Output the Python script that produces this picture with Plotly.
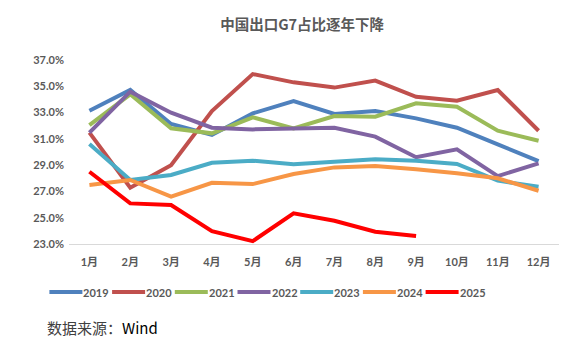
import plotly.graph_objects as go

months = ["1月", "2月", "3月", "4月", "5月", "6月", "7月", "8月", "9月", "10月", "11月", "12月"]
y2019 = [33.14, 34.72, 32.13, 31.3, 32.94, 33.88, 32.89, 33.12, 32.56, 31.85, 30.58, 29.31]
y2020 = [31.47, 27.28, 29.0, 33.12, 35.93, 35.3, 34.9, 35.43, 34.2, 33.9, 34.72, 31.62]
y2021 = [32.05, 34.39, 31.8, 31.42, 32.64, 31.8, 32.74, 32.69, 33.7, 33.45, 31.62, 30.86]
y2022 = [31.47, 34.59, 32.99, 31.85, 31.72, 31.77, 31.85, 31.17, 29.6, 30.2, 28.17, 29.14]
y2023 = [30.6, 27.87, 28.25, 29.18, 29.34, 29.06, 29.26, 29.44, 29.34, 29.09, 27.82, 27.36]
y2024 = [27.49, 27.87, 26.6, 27.66, 27.56, 28.32, 28.83, 28.93, 28.68, 28.38, 28.0, 27.05]
y2025 = [28.5, 26.09, 25.96, 23.98, 23.22, 25.33, 24.77, 23.93, 23.6]

series = [
    ("2019", y2019, "#4F81BD"),
    ("2020", y2020, "#C0504D"),
    ("2021", y2021, "#9BBB59"),
    ("2022", y2022, "#8064A2"),
    ("2023", y2023, "#4BACC6"),
    ("2024", y2024, "#F79646"),
    ("2025", y2025, "#FF0000"),
]
yticks = [23, 25, 27, 29, 31, 33, 35, 37]

fig = go.Figure()
for name, vals, color in series:
    fig.add_trace(go.Scatter(
        x=months[:len(vals)], y=vals, name=name, mode="lines",
        line=dict(color=color, width=4), showlegend=False,
    ))

tickfont = dict(family="Lato, 'Noto Sans CJK SC', sans-serif", size=11, color="#595959")
plot_l, plot_w, plot_b, plot_h = 68.6, 490.0, 244.0, 184.0
fig.update_layout(
    width=581, height=351,
    margin=dict(l=68.6, r=22.4, t=60, b=107),
    paper_bgcolor="white", plot_bgcolor="white",
    title=dict(text="<b>中国出口G7占比逐年下降</b>", x=0.52, xanchor="center", y=0.93, yanchor="middle",
               font=dict(family="'Noto Sans CJK SC', sans-serif", size=14.5, color="#595959")),
    xaxis=dict(type="category", categoryorder="array", categoryarray=months,
               range=[-0.5, 11.5], showgrid=False, showline=True, linecolor="#D9D9D9", linewidth=1,
               ticks="", tickfont=tickfont, ticklabelstandoff=8,
               tickvals=months, ticktext=[f"<b>{m}</b>" for m in months]),
    yaxis=dict(range=[23, 37], tickvals=yticks,
               ticktext=[f"<b>{v:.1f}%</b>" for v in yticks],
               showgrid=False, zeroline=False, showline=False, ticks="",
               tickfont=tickfont, ticklabelstandoff=4),
    showlegend=False,
)

# manual legend (layout positions in pixels converted to paper coords)
def px_x(px):
    return (px - plot_l) / plot_w

def px_y(py):
    return (plot_b - py) / plot_h

leg_y = 292
start = 48
step = 62.7
for i, (name, vals, color) in enumerate(series):
    x0 = start + i * step
    fig.add_shape(type="line", xref="paper", yref="paper",
                  x0=px_x(x0 + 1), x1=px_x(x0 + 34), y0=px_y(leg_y), y1=px_y(leg_y),
                  line=dict(color=color, width=4))
    fig.add_annotation(text=f"<b>{name}</b>", xref="paper", yref="paper",
                       x=px_x(x0 + 34), xanchor="left", y=px_y(leg_y), yanchor="middle",
                       showarrow=False, borderpad=0,
                       font=dict(family="Lato, sans-serif", size=11, color="#595959"))

fig.add_annotation(text="数据来源：<span style='color:black'>Wind</span>", xref="paper", yref="paper",
                   x=px_x(45), xanchor="left", y=px_y(327), yanchor="middle", showarrow=False,
                   font=dict(family="'Noto Sans CJK SC', sans-serif", size=15, color="#404040"))

fig.write_html("out.html")
